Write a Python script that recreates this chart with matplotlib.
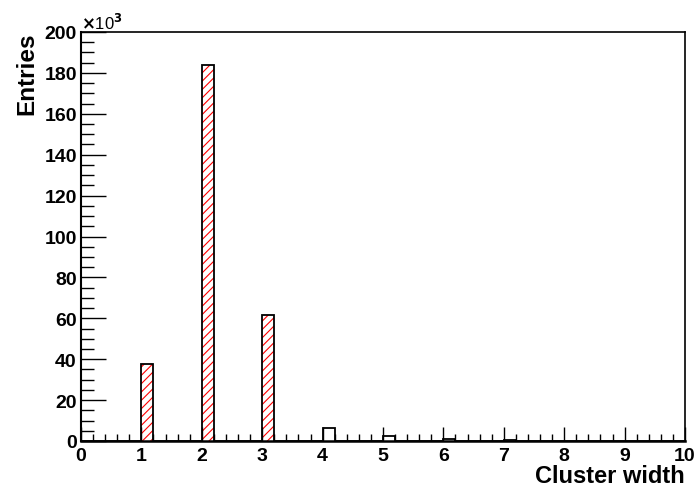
import matplotlib
matplotlib.use("Agg")
import matplotlib.pyplot as plt
import numpy as np
from matplotlib.ticker import MultipleLocator

plt.rcParams['font.family'] = ['Liberation Sans', 'DejaVu Sans']
plt.rcParams['font.weight'] = 'bold'
plt.rcParams['hatch.linewidth'] = 0.8

# cluster width -> entries (x10^3)
widths = [1, 2, 3, 4, 5, 6, 7, 8]
entries = [37.8, 184.0, 61.7, 6.6, 2.4, 1.0, 0.5, 0.2]
hatched = [1, 2, 3]   # bins drawn with the red hatch

edges = np.linspace(0, 10, 51)
counts = np.zeros(50)
for w, e in zip(widths, entries):
    counts[int(round(w / 0.2))] = e

fig = plt.figure(figsize=(6.97, 4.89), dpi=100)
ax = fig.add_axes([81/697, 1 - 442/489, 604/697, 409/489])

for w, e in zip(widths, entries):
    if w in hatched:
        ax.bar(w, e, width=0.2, align='edge', facecolor='white',
               edgecolor='red', hatch='////', linewidth=0)

ax.stairs(counts, edges, color='black', linewidth=1.3)

ax.set_xlim(0, 10)
ax.set_ylim(0, 200)
ax.xaxis.set_major_locator(MultipleLocator(1))
ax.xaxis.set_minor_locator(MultipleLocator(0.2))
ax.yaxis.set_major_locator(MultipleLocator(20))
ax.yaxis.set_minor_locator(MultipleLocator(5))
ax.tick_params(axis='x', which='major', direction='in', length=10, width=1, labelsize=14, pad=4)
ax.tick_params(axis='x', which='minor', direction='in', length=5, width=1)
ax.tick_params(axis='y', which='major', direction='in', length=18, width=1, labelsize=14, pad=3)
ax.tick_params(axis='y', which='minor', direction='in', length=9, width=1)
for s in ax.spines.values():
    s.set_linewidth(1.2)
ax.spines['bottom'].set_linewidth(1.8)
ax.spines['left'].set_linewidth(1.5)

ax.set_xlabel('Cluster width', fontsize=17, fontweight='bold', loc='right', labelpad=0)
ax.set_ylabel('Entries', fontsize=17.5, fontweight='bold', loc='top', labelpad=4)
ax.text(0.0, 1.0, r'$\times$10$^{3}$', transform=ax.transAxes, fontsize=12,
        fontweight='normal', ha='left', va='bottom')

fig.savefig('out.png', dpi=100)
